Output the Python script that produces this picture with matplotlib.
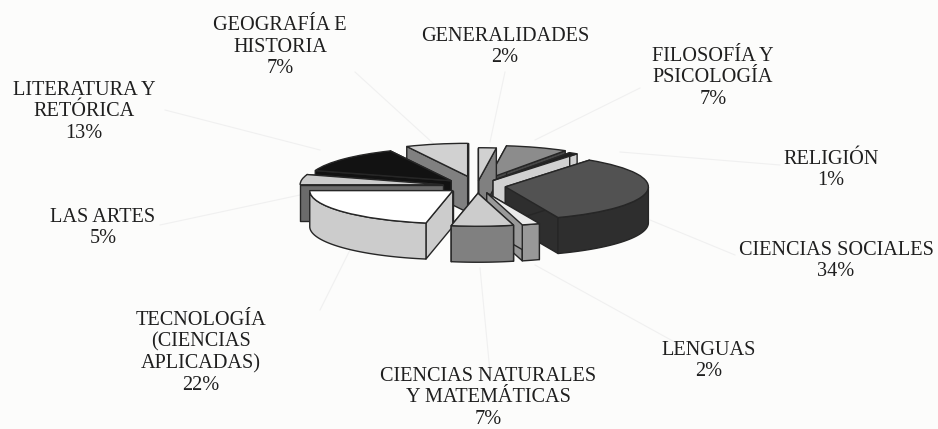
import numpy as np
import matplotlib
matplotlib.use("Agg")
import matplotlib.pyplot as plt
from matplotlib.patches import Polygon

categories = ["GENERALIDADES", "FILOSOFÍA Y\nPSICOLOGÍA", "RELIGIÓN", "CIENCIAS SOCIALES", "LENGUAS",
              "CIENCIAS NATURALES\nY MATEMÁTICAS", "TECNOLOGÍA\n(CIENCIAS\nAPLICADAS)", "LAS ARTES",
              "LITERATURA Y\nRETÓRICA", "GEOGRAFÍA E\nHISTORIA"]
values = [2, 7, 1, 34, 2, 7, 22, 5, 13, 7]
explode = [0.16, 0.24, 0.20, 0.20, 0.22, 0.22, 0.22, 0.24, 0.24, 0.30]
top_colors = ["0.82", "0.55", "0.12", "0.32", "0.92", "0.80", "1.0", "0.80", "0.07", "0.82"]
side_colors = ["0.50", "0.28", "0.82", "0.18", "0.60", "0.50", "0.80", "0.42", "0.07", "0.50"]
label_xy = [(505, 47), (713, 78), (831, 170), (836, 261), (709, 361), (488, 398), (201, 353), (103, 228), (84, 112), (280, 47)]
leader_from = [(505, 72), (640, 88), (780, 165), (735, 255), (680, 345), (490, 372), (320, 310), (160, 225), (165, 110), (355, 72)]
leader_to = [(490, 142), (535, 140), (620, 152), (650, 220), (535, 265), (480, 268), (350, 250), (300, 195), (320, 150), (435, 145)]

W, H = 938, 429
CX, CY, RX, RY, DEPTH = 477, 186, 143, 33, 36
BG = "#fcfcfb"

plt.rcParams["font.family"] = ["Liberation Serif", "DejaVu Serif"]
fig = plt.figure(figsize=(W / 100, H / 100), dpi=100, facecolor=BG)

ax_bg = fig.add_axes([0, 0, 1, 1], facecolor="none")
ax_bg.set_xlim(0, W)
ax_bg.set_ylim(H, 0)
ax_bg.axis("off")
for (x0, y0), (x1, y1) in zip(leader_from, leader_to):
    ax_bg.plot([x0, x1], [y0, y1], color="0.94", lw=0.8)

ax = fig.add_axes([0, 0, 1, 1], facecolor="none")
wedges, _ = ax.pie(values, explode=explode, startangle=90, counterclock=False, radius=1.0,
                   colors=top_colors, wedgeprops=dict(edgecolor="0.15", linewidth=1.0))
ax.set_aspect("auto")
ax.set_xlim(-CX / RX, (W - CX) / RX)
ax.set_ylim(-(H - CY) / RY, CY / RY)
ax.axis("off")

d = DEPTH / RY
mids = [np.deg2rad((w.theta1 + w.theta2) / 2) for w in wedges]
order = np.argsort([-(w.center[1] + np.sin(m)) for w, m in zip(wedges, mids)])
z = 2
for i in order:
    w = wedges[i]
    cx, cy = w.center
    t = np.deg2rad(np.linspace(w.theta1, w.theta2, 200))
    style = dict(edgecolor="0.15", linewidth=1.0, facecolor=side_colors[i], joinstyle="round")
    for a in (t[0], t[-1]):
        px, py = cx + np.cos(a), cy + np.sin(a)
        ax.add_patch(Polygon([(cx, cy), (px, py), (px, py - d), (cx, cy - d)], zorder=z, **style))
    z += 1
    front = t[np.sin(t) <= 0]
    if front.size > 1:
        xs, ys = cx + np.cos(front), cy + np.sin(front)
        pts = np.r_[np.c_[xs, ys], np.c_[xs, ys - d][::-1]]
        ax.add_patch(Polygon(pts, zorder=z, **style))
    z += 1
    w.set_zorder(z)
    z += 1

for name, v, (x, y) in zip(categories, values, label_xy):
    ax_bg.text(x, y, f"{name}\n{v}%", ha="center", va="center", fontsize=14.6, color="0.12",
               linespacing=1.18, zorder=100)

fig.savefig("out.png", dpi=100, facecolor=BG)
